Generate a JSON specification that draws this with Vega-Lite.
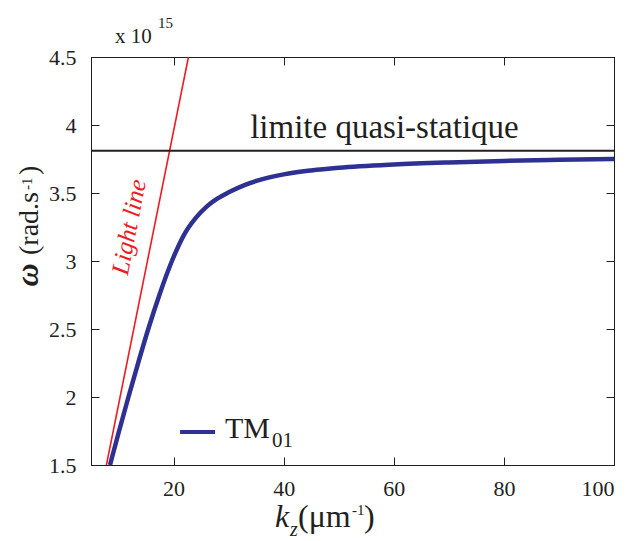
{
  "$schema": "https://vega.github.io/schema/vega-lite/v6.json",
  "width": 523,
  "height": 408,
  "autosize": {"type": "none"},
  "padding": {"left": 91, "top": 57, "right": 16, "bottom": 76},
  "config": {
    "view": {"stroke": "#231f20", "strokeWidth": 1},
    "font": "Liberation Serif",
    "axis": {
      "domainColor": "#231f20", "tickColor": "#231f20", "labelColor": "#231f20",
      "labelFont": "Liberation Serif", "labelFontSize": 22, "grid": false, "title": null,
      "tickSize": -8
    },
    "text": {"font": "Liberation Serif", "color": "#231f20", "align": "left", "baseline": "alphabetic"}
  },
  "datasets": {
    "tm01": [
      {"k": 8.45, "w": 1.5}, {"k": 10, "w": 1.735}, {"k": 11.8, "w": 2.0}, {"k": 13.6, "w": 2.255},
      {"k": 15.4, "w": 2.5}, {"k": 17.5, "w": 2.76}, {"k": 19.7, "w": 3.0}, {"k": 22, "w": 3.2},
      {"k": 24, "w": 3.315}, {"k": 26, "w": 3.4}, {"k": 28, "w": 3.46}, {"k": 30, "w": 3.505},
      {"k": 33, "w": 3.56}, {"k": 36, "w": 3.6}, {"k": 40, "w": 3.637}, {"k": 45, "w": 3.666},
      {"k": 50, "w": 3.686}, {"k": 60, "w": 3.71}, {"k": 70, "w": 3.725}, {"k": 80, "w": 3.736},
      {"k": 90, "w": 3.744}, {"k": 100, "w": 3.75}
    ],
    "light": [{"k": 7.8, "w": 1.5}, {"k": 22.7, "w": 4.5}],
    "one": [{}]
  },
  "layer": [
    {
      "data": {"name": "light"},
      "mark": {"type": "line", "color": "#ed1c24", "strokeWidth": 1.6, "clip": true},
      "encoding": {
        "x": {"field": "k", "type": "quantitative", "scale": {"domain": [5, 100], "nice": false, "zero": false},
              "axis": {"orient": "top", "labels": false, "values": [20, 40, 60, 80, 100]}},
        "y": {"field": "w", "type": "quantitative", "scale": {"domain": [1.5, 4.5], "nice": false, "zero": false},
              "axis": {"orient": "right", "labels": false, "values": [1.5, 2, 2.5, 3, 3.5, 4, 4.5]}}
      }
    },
    {
      "data": {"name": "tm01"},
      "mark": {"type": "line", "color": "#2e3192", "strokeWidth": 4.5, "clip": true, "interpolate": "monotone"},
      "encoding": {
        "x": {"field": "k", "type": "quantitative",
              "axis": {"orient": "bottom", "values": [20, 40, 60, 80, 100], "format": "d", "labelPadding": 21}},
        "y": {"field": "w", "type": "quantitative",
              "axis": {"orient": "left", "values": [1.5, 2, 2.5, 3, 3.5, 4, 4.5], "format": "~g", "labelPadding": 23}}
      }
    },
    {
      "data": {"name": "one"},
      "mark": {"type": "rule", "color": "#231f20", "strokeWidth": 2},
      "encoding": {"y": {"datum": 3.81, "axis": null}}
    },
    {
      "data": {"name": "one"},
      "mark": {"type": "rule", "color": "#2e3192", "strokeWidth": 4},
      "encoding": {"x": {"datum": 21.17, "axis": null}, "x2": {"datum": 27.53}, "y": {"datum": 1.743, "axis": null}}
    },
    {
      "data": {"name": "one"},
      "mark": {"type": "text", "text": "limite quasi-statique", "fontSize": 33, "align": "center"},
      "encoding": {"x": {"datum": 58.3, "axis": null}, "y": {"datum": 3.904, "axis": null}}
    },
    {
      "data": {"name": "one"},
      "mark": {"type": "text", "text": "Light line", "fontSize": 25, "fontStyle": "italic", "color": "#ed1c24", "align": "center", "baseline": "middle", "angle": 281},
      "encoding": {"x": {"datum": 11.9, "axis": null}, "y": {"datum": 3.25, "axis": null}}
    },
    {
      "data": {"name": "one"},
      "mark": {"type": "text", "text": "x 10", "fontSize": 21},
      "encoding": {"x": {"datum": 9.36, "axis": null}, "y": {"datum": 4.603, "axis": null}}
    },
    {
      "data": {"name": "one"},
      "mark": {"type": "text", "text": "15", "fontSize": 15},
      "encoding": {"x": {"datum": 17.17, "axis": null}, "y": {"datum": 4.713, "axis": null}}
    },
    {
      "data": {"name": "one"},
      "mark": {"type": "text", "text": "TM", "fontSize": 30},
      "encoding": {"x": {"datum": 29.34, "axis": null}, "y": {"datum": 1.699, "axis": null}}
    },
    {
      "data": {"name": "one"},
      "mark": {"type": "text", "text": "01", "fontSize": 21},
      "encoding": {"x": {"datum": 37.88, "axis": null}, "y": {"datum": 1.632, "axis": null}}
    },
    {
      "data": {"name": "one"},
      "mark": {"type": "text", "text": "k", "fontSize": 32, "fontStyle": "italic"},
      "encoding": {"x": {"datum": 38.42, "axis": null}, "y": {"datum": 1.044, "axis": null}}
    },
    {
      "data": {"name": "one"},
      "mark": {"type": "text", "text": "z", "fontSize": 20, "fontStyle": "italic"},
      "encoding": {"x": {"datum": 41.15, "axis": null}, "y": {"datum": 0.975, "axis": null}}
    },
    {
      "data": {"name": "one"},
      "mark": {"type": "text", "text": "(μm", "fontSize": 32},
      "encoding": {"x": {"datum": 42.6, "axis": null}, "y": {"datum": 1.044, "axis": null}}
    },
    {
      "data": {"name": "one"},
      "mark": {"type": "text", "text": "-1", "fontSize": 15},
      "encoding": {"x": {"datum": 52.41, "axis": null}, "y": {"datum": 1.135, "axis": null}}
    },
    {
      "data": {"name": "one"},
      "mark": {"type": "text", "text": ")", "fontSize": 32},
      "encoding": {"x": {"datum": 54.59, "axis": null}, "y": {"datum": 1.044, "axis": null}}
    },
    {
      "data": {"name": "one"},
      "mark": {"type": "text", "text": "ω", "fontSize": 32, "fontStyle": "italic", "fontWeight": "bold", "align": "center", "angle": 270},
      "encoding": {"x": {"datum": -4.63, "axis": null}, "y": {"datum": 2.897, "axis": null}}
    },
    {
      "data": {"name": "one"},
      "mark": {"type": "text", "text": "(rad.s", "fontSize": 28, "angle": 270},
      "encoding": {"x": {"datum": -4.63, "axis": null}, "y": {"datum": 3.044, "axis": null}}
    },
    {
      "data": {"name": "one"},
      "mark": {"type": "text", "text": "-1", "fontSize": 15, "angle": 270},
      "encoding": {"x": {"datum": -5.72, "axis": null}, "y": {"datum": 3.522, "axis": null}}
    },
    {
      "data": {"name": "one"},
      "mark": {"type": "text", "text": ")", "fontSize": 28, "angle": 270},
      "encoding": {"x": {"datum": -4.63, "axis": null}, "y": {"datum": 3.632, "axis": null}}
    }
  ],
  "resolve": {"axis": {"x": "independent", "y": "independent"}}
}
